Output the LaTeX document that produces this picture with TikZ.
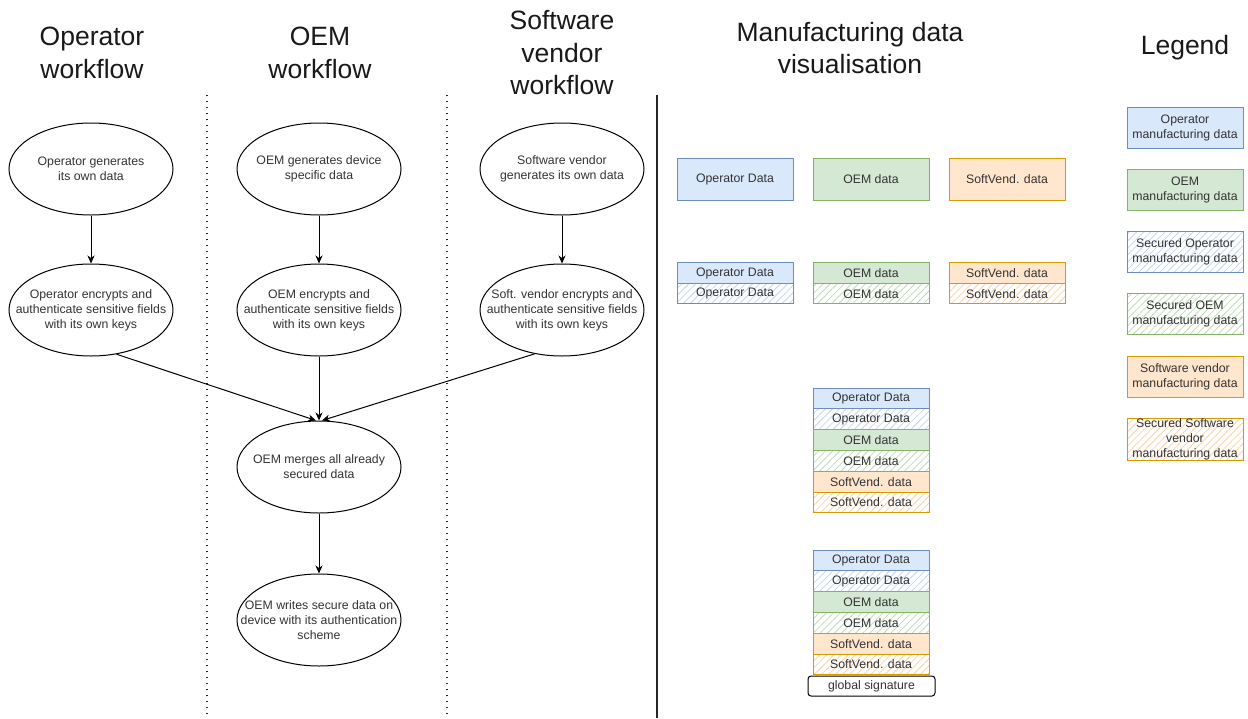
\documentclass[tikz,border=0pt]{standalone}
\usepackage{fontspec}
\setmainfont{Liberation Sans}
\usetikzlibrary{shapes.geometric,arrows.meta,patterns.meta}
\definecolor{opF}{HTML}{DAE8FC}
\definecolor{opS}{HTML}{6C8EBF}
\definecolor{oemF}{HTML}{D5E8D4}
\definecolor{oemS}{HTML}{82B366}
\definecolor{swF}{HTML}{FFE6CC}
\definecolor{swS}{HTML}{D79B00}
\definecolor{opH}{RGB}{198,214,240}
\definecolor{oemH}{RGB}{192,220,182}
\definecolor{swH}{RGB}{252,210,168}
\definecolor{txt}{HTML}{333333}
\begin{document}
\begin{tikzpicture}[x=1pt,y=-1pt,
  proc/.style={ellipse,draw=black,line width=1pt,minimum width=164pt,minimum height=92pt,inner sep=0pt},
  ptxt/.style={align=center,font=\fontsize{12.3}{15}\selectfont,text=txt,inner sep=0pt},
  flow/.style={line width=1pt,-{Stealth[length=8pt,width=7pt,inset=2.5pt]}},
  title/.style={align=center,font=\fontsize{26.5}{32.5}\selectfont,text=black!90},
  sep/.style={line width=1.4pt,dash pattern=on 1.4pt off 4.6pt,black!85},
  dbox/.style={draw,line width=1pt,minimum width=116pt,inner sep=0pt,font=\fontsize{12.3}{15}\selectfont,text=txt,align=center},
  opbox/.style={dbox,fill=opF,draw=opS},
  oembox/.style={dbox,fill=oemF,draw=oemS},
  swbox/.style={dbox,fill=swF,draw=swS},
  ophatch/.style={dbox,draw=opS,preaction={fill=white},pattern={Lines[angle=45,distance=5pt,line width=0.8pt]},pattern color=opH},
  oemhatch/.style={dbox,draw=oemS,preaction={fill=white},pattern={Lines[angle=45,distance=5pt,line width=0.8pt]},pattern color=oemH},
  swhatch/.style={dbox,draw=swS,preaction={fill=white},pattern={Lines[angle=45,distance=5pt,line width=0.8pt]},pattern color=swH},
  thin/.style={minimum height=20.8pt},
  big/.style={minimum height=42pt},
  leg/.style={minimum height=41pt}
]
\path[use as bounding box,fill=white] (0,0) rectangle (1248,718);

% titles
\node[title] (t1) at (92,53) {Operator\\workflow};
\node[title] (t2) at (320,53) {OEM\\workflow};
\node[title] (t3) at (562,53) {Software\\vendor\\workflow};
\node[title] (t4) at (850,48) {Manufacturing data\\visualisation};
\node[title] (t5) at (1185,48) {Legend};

% separators
\coordinate (s1a) at (207,95); \coordinate (s1b) at (207,718);
\coordinate (s2a) at (447,95); \coordinate (s2b) at (447,718);
\coordinate (s3a) at (657,95); \coordinate (s3b) at (657,718);
\draw[sep] (s1a) -- (s1b);
\draw[sep] (s2a) -- (s2b);
\draw[line width=1.3pt,black!85] (s3a) -- (s3b);

% workflow
\node[proc,label={[ptxt]center:Operator generates\\its own data}] (op1) at (91,169) {};
\node[proc,label={[ptxt]center:OEM generates device\\specific data}] (oem1) at (319,169) {};
\node[proc,label={[ptxt]center:Software vendor\\generates its own data}] (sw1) at (562,169) {};
\node[proc,label={[ptxt]center:Operator encrypts and\\authenticate sensitive fields\\with its own keys}] (op2) at (91,310) {};
\node[proc,label={[ptxt]center:OEM encrypts and\\authenticate sensitive fields\\with its own keys}] (oem2) at (319,310) {};
\node[proc,label={[ptxt]center:Soft. vendor encrypts and\\authenticate sensitive fields\\with its own keys}] (sw2) at (562,310) {};
\node[proc,label={[ptxt]center:OEM merges all already\\secured data}] (merge) at (319,467) {};
\node[proc,label={[ptxt]center:OEM writes secure data on\\device with its authentication\\scheme}] (write) at (319,620) {};

\draw[flow] (op1) -- (op2);
\draw[flow] (oem1) -- (oem2);
\draw[flow] (sw1) -- (sw2);
\draw[flow] (op2.300) -- ([xshift=-3pt]merge.north);
\draw[flow] (oem2) -- (merge);
\draw[flow] (sw2.238) -- ([xshift=3pt]merge.north);
\draw[flow] (merge) -- (write);

% visualisation row 1
\node[opbox,big] (r1a) at (735,179) {Operator Data};
\node[oembox,big] (r1b) at (871,179) {OEM data};
\node[swbox,big] (r1c) at (1007,179) {SoftVend. data};

% row 2
\node[opbox,minimum height=20.5pt] (r2a) at (735,273.2) {Operator Data};
\node[ophatch,minimum height=20.5pt] (r2ah) at (735,293.7) {Operator Data};
\node[oembox,minimum height=20.5pt] (r2b) at (871,273.2) {OEM data};
\node[oemhatch,minimum height=20.5pt] (r2bh) at (871,293.7) {OEM data};
\node[swbox,minimum height=20.5pt] (r2c) at (1007,273.2) {SoftVend. data};
\node[swhatch,minimum height=20.5pt] (r2ch) at (1007,293.7) {SoftVend. data};

% stack 1
\node[opbox,thin] (s1) at (871,398.4) {Operator Data};
\node[ophatch,thin] (s2) at (871,419.2) {Operator Data};
\node[oembox,thin] (s3) at (871,440.0) {OEM data};
\node[oemhatch,thin] (s4) at (871,460.8) {OEM data};
\node[swbox,thin] (s5) at (871,481.6) {SoftVend. data};
\node[swhatch,thin] (s6) at (871,502.4) {SoftVend. data};

% stack 2
\node[opbox,thin] (u1) at (871,560.4) {Operator Data};
\node[ophatch,thin] (u2) at (871,581.2) {Operator Data};
\node[oembox,thin] (u3) at (871,602.0) {OEM data};
\node[oemhatch,thin] (u4) at (871,622.8) {OEM data};
\node[swbox,thin] (u5) at (871,643.6) {SoftVend. data};
\node[swhatch,thin] (u6) at (871,664.4) {SoftVend. data};
\node[dbox,draw=black,fill=white,rounded corners=3pt,minimum width=127pt,minimum height=20pt] (gs) at (871.5,686) {global signature};

% legend
\node[opbox,leg] (l1) at (1185,127.5) {Operator\\manufacturing data};
\node[oembox,leg] (l2) at (1185,189.5) {OEM\\manufacturing data};
\node[ophatch,leg] (l3) at (1185,252) {Secured Operator\\manufacturing data};
\node[oemhatch,leg] (l4) at (1185,314) {Secured OEM\\manufacturing data};
\node[swbox,leg] (l5) at (1185,376.5) {Software vendor\\manufacturing data};
\node[swhatch,leg,minimum height=42pt] (l6) at (1185,439) {Secured Software\\vendor\\manufacturing data};
\end{tikzpicture}
\end{document}
